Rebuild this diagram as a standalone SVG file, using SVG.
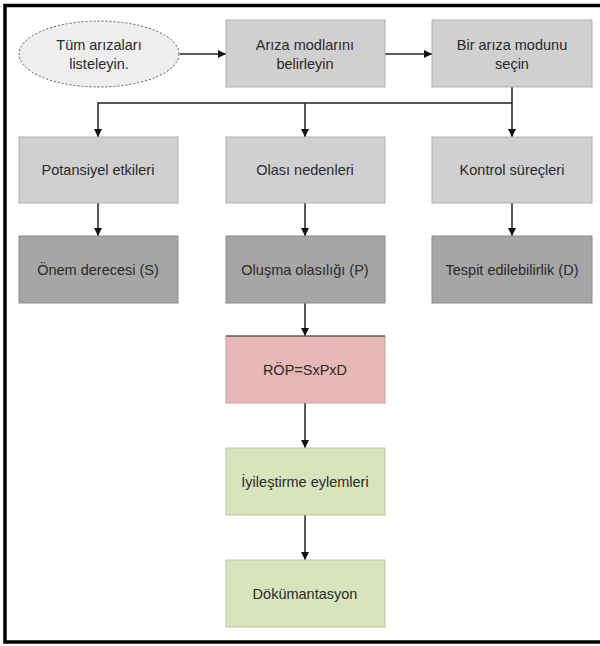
<svg xmlns="http://www.w3.org/2000/svg" width="600" height="646" viewBox="0 0 600 646">
<defs>
<style>
.t{font-family:"Liberation Sans",Arial,sans-serif;font-size:14.5px;fill:#2a2a2a;text-anchor:middle;dominant-baseline:central}
.l{fill:#d0d0d0;stroke:#b0b0b0;stroke-width:1}
.d{fill:#a6a6a6;stroke:#8a8a8a;stroke-width:1}
.c{stroke:#222;stroke-width:1.5;fill:none}
</style>
<marker id="a" viewBox="0 0 10 10" refX="10" refY="5" markerWidth="8" markerHeight="8" markerUnits="userSpaceOnUse" orient="auto"><path d="M0,0 L10,5 L0,10 z" fill="#111"/></marker>
</defs>
<rect x="0" y="0" width="600" height="646" fill="#fff"/>
<rect x="5" y="5.5" width="610" height="636.5" fill="none" stroke="#000" stroke-width="3.5"/>
<g id="connectors">
<path class="c" d="M180,54 H226" marker-end="url(#a)"/>
<path class="c" d="M385,54 H432" marker-end="url(#a)"/>
<path class="c" d="M512,87 V137" marker-end="url(#a)" stroke="#666"/>
<path class="c" d="M512,103 H98 V137" marker-end="url(#a)" stroke="#555"/>
<path class="c" d="M305,103 V137" marker-end="url(#a)"/>
<path class="c" d="M98,203 V236" marker-end="url(#a)" stroke="#555"/>
<path class="c" d="M305,203 V236" marker-end="url(#a)"/>
<path class="c" d="M512,203 V236" marker-end="url(#a)" stroke="#555"/>
<path class="c" d="M305,303 V336" marker-end="url(#a)"/>
<path class="c" d="M305,403 V448" marker-end="url(#a)"/>
<path class="c" d="M305,515 V560" marker-end="url(#a)"/>
</g>
<g id="n1"><ellipse cx="99" cy="54" rx="80" ry="33" fill="#eeeeee" stroke="#555" stroke-width="1" stroke-dasharray="2,2"/><text class="t" x="99" y="45">Tüm arızaları</text><text class="t" x="99" y="64">listeleyin.</text></g>
<g id="n2"><rect class="l" x="226" y="20" width="159" height="67"/><text class="t" x="305" y="45">Arıza modlarını</text><text class="t" x="305" y="64">belirleyin</text></g>
<g id="n3"><rect class="l" x="432" y="20" width="160" height="67"/><text class="t" x="512" y="45">Bir arıza modunu</text><text class="t" x="512" y="64">seçin</text></g>
<g id="n4"><rect class="l" x="19" y="137" width="159" height="66"/><text class="t" x="98" y="170">Potansiyel etkileri</text></g>
<g id="n5"><rect class="l" x="226" y="137" width="159" height="66"/><text class="t" x="305" y="170">Olası nedenleri</text></g>
<g id="n6"><rect class="l" x="432" y="137" width="160" height="66"/><text class="t" x="512" y="170">Kontrol süreçleri</text></g>
<g id="n7"><rect class="d" x="19" y="236" width="159" height="67"/><text class="t" x="98" y="270">Önem derecesi (S)</text></g>
<g id="n8"><rect class="d" x="226" y="236" width="159" height="67"/><text class="t" x="305" y="270">Oluşma olasılığı (P)</text></g>
<g id="n9"><rect class="d" x="432" y="236" width="160" height="67"/><text class="t" x="512" y="270">Tespit edilebilirlik (D)</text></g>
<g id="n10"><rect x="226" y="336" width="159" height="67" fill="#e6b8b7" stroke="#c9a09f"/><line x1="226" y1="336" x2="385" y2="336" stroke="#333" stroke-width="1"/><text class="t" x="305" y="370">RÖP=SxPxD</text></g>
<g id="n11"><rect x="226" y="448" width="159" height="67" fill="#d8e4bc" stroke="#b9c59f"/><text class="t" x="305" y="482">İyileştirme eylemleri</text></g>
<g id="n12"><rect x="226" y="560" width="159" height="67" fill="#d8e4bc" stroke="#b9c59f"/><text class="t" x="305" y="594">Dökümantasyon</text></g>
</svg>
